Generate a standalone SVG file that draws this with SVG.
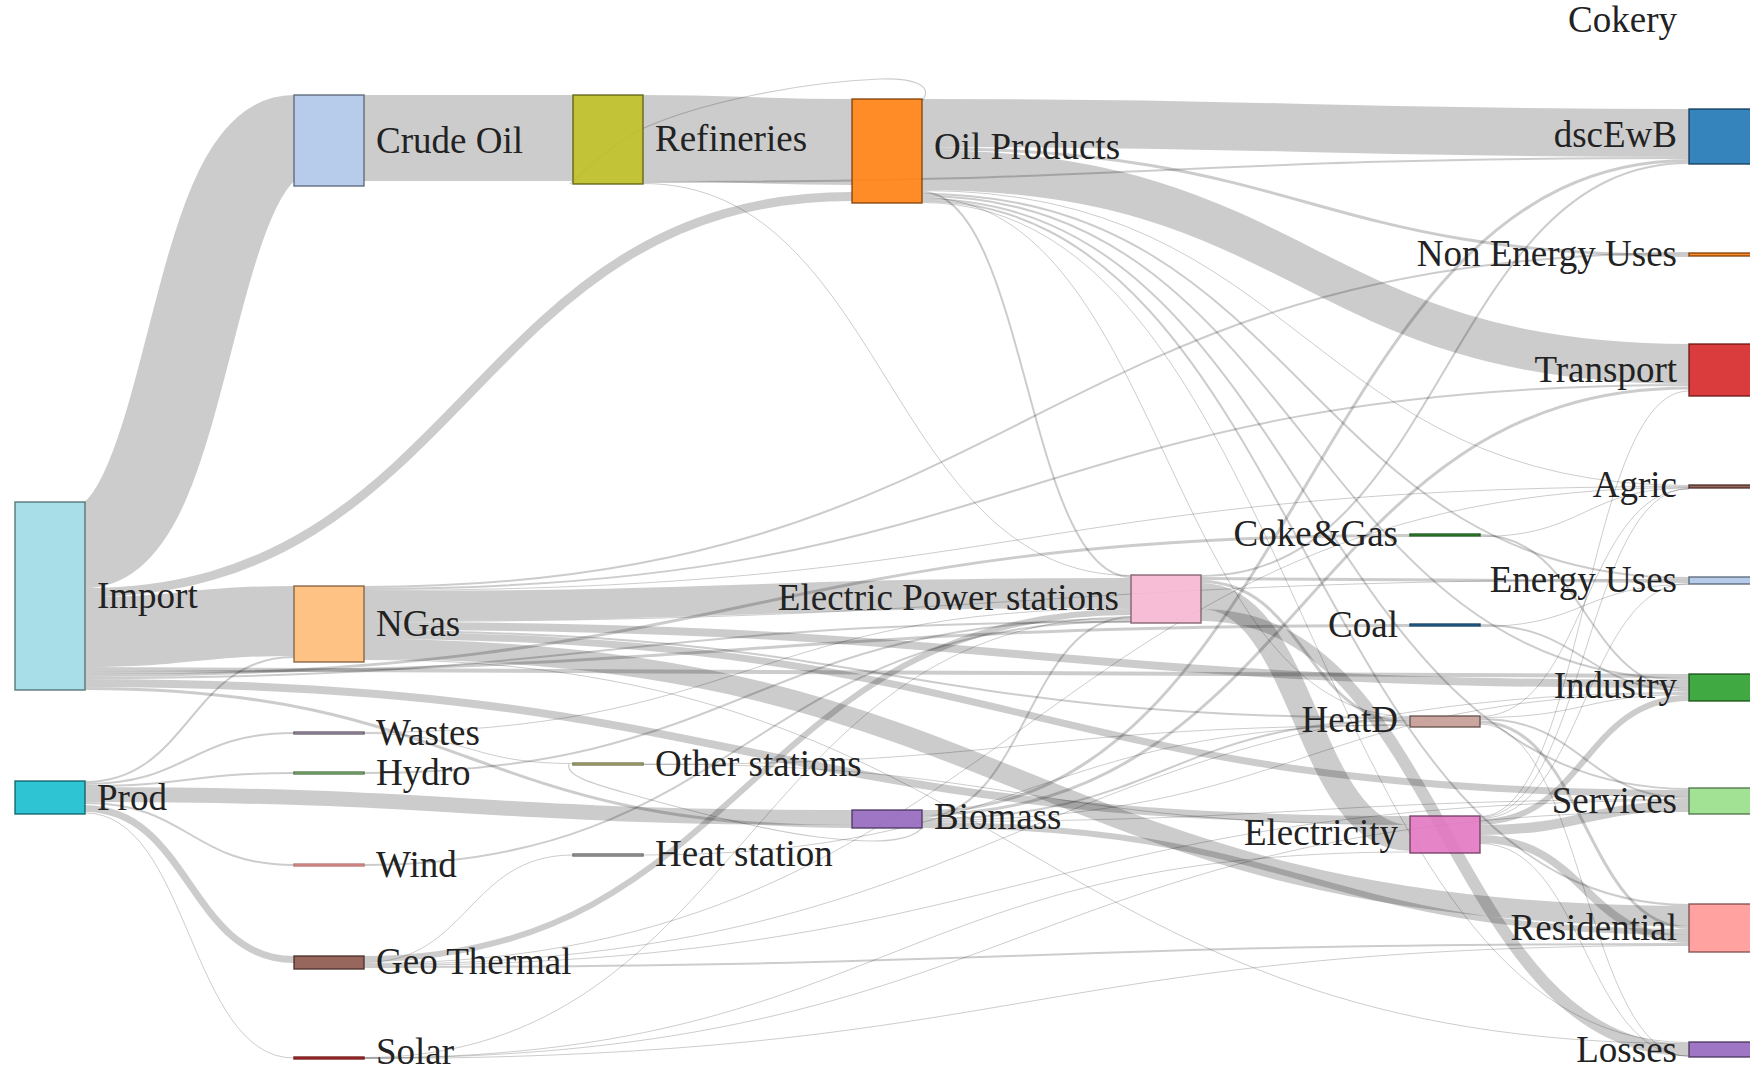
<svg xmlns="http://www.w3.org/2000/svg" width="1750" height="1071" viewBox="0 0 1750 1071">
<style>
.lk path{fill:none;stroke:#000;stroke-opacity:.2}
.loop{fill:none;stroke:#b06878;stroke-opacity:.55;stroke-width:1.2}
.nd rect{fill-opacity:.9;stroke-width:1.5;stroke-opacity:.85}
.nd text{font-family:"Liberation Serif","Times New Roman",serif;font-size:37px;fill:#222}
.e{text-anchor:end}
</style>
<rect width="1750" height="1071" fill="#fff"/>
<g id="links" class="lk">
<path d="M85,545C189.5,545 189.5,138 294,138" stroke-width="86"/>
<path d="M85,592.5C468.5,592.5 468.5,196.5 852,196.5" stroke-width="9"/>
<path d="M85,632C189.5,632 189.5,621 294,621" stroke-width="70"/>
<path d="M85,669C887,669 887,676 1689,676" stroke-width="4"/>
<path d="M85,672.5C747.5,672.5 747.5,625.5 1410,625.5" stroke-width="3"/>
<path d="M85,675.5C747.5,675.5 747.5,535.5 1410,535.5" stroke-width="3"/>
<path d="M85,678C608,678 608,622 1131,622" stroke-width="2"/>
<path d="M85,683C747.5,683 747.5,820 1410,820" stroke-width="8"/>
<path d="M85,688.5C468.5,688.5 468.5,826.5 852,826.5" stroke-width="3"/>
<path d="M85,782C189.5,782 189.5,657 294,657" stroke-width="2"/>
<path d="M85,784C189.5,784 189.5,733 294,733" stroke-width="2"/>
<path d="M85,786C189.5,786 189.5,773 294,773" stroke-width="2"/>
<path d="M85,794.5C468.5,794.5 468.5,817.5 852,817.5" stroke-width="15"/>
<path d="M85,803C189.5,803 189.5,865 294,865" stroke-width="2"/>
<path d="M85,808.5C189.5,808.5 189.5,959.5 294,959.5" stroke-width="7"/>
<path d="M85,813C189.5,813 189.5,1058 294,1058" stroke-width="1"/>
<path d="M364,138C468.5,138 468.5,138 573,138" stroke-width="86"/>
<path d="M643,138C747.5,138 747.5,142 852,142" stroke-width="86"/>
<path d="M643,182C1166,182 1166,158 1689,158" stroke-width="2"/>
<path d="M643,183.5C887,183.5 887,575.5 1131,575.5" stroke-width="1"/>
<path d="M922,123C1305.5,123 1305.5,133 1689,133" stroke-width="48"/>
<path d="M922,148.5C1305.5,148.5 1305.5,255.5 1689,255.5" stroke-width="3"/>
<path d="M922,170C1305.5,170 1305.5,364 1689,364" stroke-width="40"/>
<path d="M922,190.5C1305.5,190.5 1305.5,485.5 1689,485.5" stroke-width="1"/>
<path d="M922,192C1026.5,192 1026.5,577 1131,577" stroke-width="2"/>
<path d="M922,194C1305.5,194 1305.5,578 1689,578" stroke-width="2"/>
<path d="M922,196C1305.5,196 1305.5,679 1689,679" stroke-width="2"/>
<path d="M922,197.5C1166,197.5 1166,716.5 1410,716.5" stroke-width="1"/>
<path d="M922,199C1305.5,199 1305.5,789 1689,789" stroke-width="2"/>
<path d="M922,201C1305.5,201 1305.5,905 1689,905" stroke-width="2"/>
<path d="M922,202.5C1305.5,202.5 1305.5,1042.5 1689,1042.5" stroke-width="1"/>
<path d="M364,587C1026.5,587 1026.5,253 1689,253" stroke-width="2"/>
<path d="M364,589C1026.5,589 1026.5,385 1689,385" stroke-width="2"/>
<path d="M364,590.5C1026.5,590.5 1026.5,486.5 1689,486.5" stroke-width="1"/>
<path d="M364,606C747.5,606 747.5,593 1131,593" stroke-width="30"/>
<path d="M364,621.5C1026.5,621.5 1026.5,579.5 1689,579.5" stroke-width="1"/>
<path d="M364,626C1026.5,626 1026.5,684 1689,684" stroke-width="8"/>
<path d="M364,631C887,631 887,718 1410,718" stroke-width="2"/>
<path d="M364,635.5C1026.5,635.5 1026.5,793.5 1689,793.5" stroke-width="7"/>
<path d="M364,649C1026.5,649 1026.5,916 1689,916" stroke-width="20"/>
<path d="M364,659.5C1026.5,659.5 1026.5,1043.5 1689,1043.5" stroke-width="1"/>
<path d="M364,733.5C468.5,733.5 468.5,763.5 573,763.5" stroke-width="1"/>
<path d="M364,732.5C747.5,732.5 747.5,608.5 1131,608.5" stroke-width="1"/>
<path d="M364,773C747.5,773 747.5,619 1131,619" stroke-width="2"/>
<path d="M364,865C747.5,865 747.5,621 1131,621" stroke-width="2"/>
<path d="M364,959C747.5,959 747.5,612 1131,612" stroke-width="6"/>
<path d="M364,962.5C468.5,962.5 468.5,855 573,855" stroke-width="1"/>
<path d="M364,963.5C1026.5,963.5 1026.5,487.5 1689,487.5" stroke-width="1"/>
<path d="M364,964.5C1026.5,964.5 1026.5,692.5 1689,692.5" stroke-width="1"/>
<path d="M364,965.5C1026.5,965.5 1026.5,800.5 1689,800.5" stroke-width="1"/>
<path d="M364,967C1026.5,967 1026.5,944 1689,944" stroke-width="2"/>
<path d="M364,1057.5C747.5,1057.5 747.5,617 1131,617" stroke-width="1"/>
<path d="M364,1058C887,1058 887,852 1410,852" stroke-width="1"/>
<path d="M364,1058C1026.5,1058 1026.5,811.5 1689,811.5" stroke-width="1"/>
<path d="M364,1058.5C1026.5,1058.5 1026.5,945.5 1689,945.5" stroke-width="1"/>
<path d="M643,764C1026.5,764 1026.5,824.5 1410,824.5" stroke-width="1"/>
<path d="M643,764.5C1026.5,764.5 1026.5,725.5 1410,725.5" stroke-width="1"/>
<path d="M643,855C1026.5,855 1026.5,724.5 1410,724.5" stroke-width="1"/>
<path d="M922,811.5C1305.5,811.5 1305.5,160.5 1689,160.5" stroke-width="3"/>
<path d="M922,814.5C1305.5,814.5 1305.5,388 1689,388" stroke-width="3"/>
<path d="M922,817C1026.5,817 1026.5,617 1131,617" stroke-width="2"/>
<path d="M922,819C1166,819 1166,720 1410,720" stroke-width="2"/>
<path d="M922,820.5C1305.5,820.5 1305.5,693.5 1689,693.5" stroke-width="1"/>
<path d="M922,821.5C1305.5,821.5 1305.5,799.5 1689,799.5" stroke-width="1"/>
<path d="M922,825C1305.5,825 1305.5,932 1689,932" stroke-width="6"/>
<path d="M1201,576C1445,576 1445,163 1689,163" stroke-width="2"/>
<path d="M1201,578.5C1445,578.5 1445,581.5 1689,581.5" stroke-width="3"/>
<path d="M1201,581.5C1305.5,581.5 1305.5,722.5 1410,722.5" stroke-width="3"/>
<path d="M1201,596C1305.5,596 1305.5,838 1410,838" stroke-width="26"/>
<path d="M1201,615C1445,615 1445,1050 1689,1050" stroke-width="12"/>
<path d="M1480,535C1584.5,535 1584.5,689 1689,689" stroke-width="2"/>
<path d="M1480,536.5C1584.5,536.5 1584.5,488 1689,488" stroke-width="1"/>
<path d="M1480,625C1584.5,625 1584.5,691 1689,691" stroke-width="2"/>
<path d="M1480,626.5C1584.5,626.5 1584.5,584.5 1689,584.5" stroke-width="1"/>
<path d="M1480,716.5C1584.5,716.5 1584.5,489 1689,489" stroke-width="1"/>
<path d="M1480,717.5C1584.5,717.5 1584.5,694.5 1689,694.5" stroke-width="1"/>
<path d="M1480,719C1584.5,719 1584.5,798 1689,798" stroke-width="2"/>
<path d="M1480,722C1584.5,722 1584.5,927.5 1689,927.5" stroke-width="3"/>
<path d="M1480,724C1584.5,724 1584.5,1056.5 1689,1056.5" stroke-width="1"/>
<path d="M1480,816.5C1584.5,816.5 1584.5,391 1689,391" stroke-width="1"/>
<path d="M1480,817.5C1584.5,817.5 1584.5,488.5 1689,488.5" stroke-width="1"/>
<path d="M1480,818.5C1584.5,818.5 1584.5,583.5 1689,583.5" stroke-width="1"/>
<path d="M1480,822C1584.5,822 1584.5,698 1689,698" stroke-width="6"/>
<path d="M1480,830C1584.5,830 1584.5,806 1689,806" stroke-width="10"/>
<path d="M1480,839C1584.5,839 1584.5,939 1689,939" stroke-width="8"/>
<path d="M1480,843.5C1584.5,843.5 1584.5,1056 1689,1056" stroke-width="1"/>
<path class="loop" d="M922,101C935,84 910,78 880,79C800,82 700,103 644,128C620,140 590,165 570,184"/>
<path class="loop" d="M921,829C905,845 860,842 818,837C760,830 680,808 626,793C590,783 565,775 569,764"/>
</g>
<g class="nd">
<g id="n-import"><rect x="15" y="502" width="70" height="188" fill="#9edae5" stroke="#4d6b70"/><text x="97" y="608">Import</text></g>
<g id="n-prod"><rect x="15" y="781" width="70" height="33" fill="#17becf" stroke="#0b5d65"/><text x="97" y="810">Prod</text></g>
<g id="n-crude"><rect x="294" y="95" width="70" height="91" fill="#aec7e8" stroke="#556272"/><text x="376" y="153">Crude Oil</text></g>
<g id="n-ngas"><rect x="294" y="586" width="70" height="76" fill="#ffbb78" stroke="#7d5c3b"/><text x="376" y="636">NGas</text></g>
<g id="n-wastes"><rect x="294" y="732" width="70" height="2" fill="#c5b0d5" stroke="#605663"/><text x="376" y="745">Wastes</text></g>
<g id="n-hydro"><rect x="294" y="772" width="70" height="2" fill="#98df8a" stroke="#4b6d44"/><text x="376" y="785">Hydro</text></g>
<g id="n-wind"><rect x="294" y="864" width="70" height="2" fill="#ff9896" stroke="#b07070"/><text x="376" y="877">Wind</text></g>
<g id="n-geo"><rect x="294" y="956" width="70" height="13" fill="#8c564b" stroke="#452a25"/><text x="376" y="974">Geo Thermal</text></g>
<g id="n-solar"><rect x="294" y="1057" width="70" height="2" fill="#d62728" stroke="#691314"/><text x="376" y="1064">Solar</text></g>
<g id="n-refineries"><rect x="573" y="95" width="70" height="89" fill="#bcbd22" stroke="#5c5d11"/><text x="655" y="151">Refineries</text></g>
<g id="n-otherst"><rect x="573" y="763" width="70" height="2" fill="#dbdb8d" stroke="#6b6b45"/><text x="655" y="776">Other stations</text></g>
<g id="n-heatst"><rect x="573" y="854" width="70" height="2" fill="#c7c7c7" stroke="#616161"/><text x="655" y="866">Heat station</text></g>
<g id="n-oilprod"><rect x="852" y="99" width="70" height="104" fill="#ff7f0e" stroke="#7d3e07"/><text x="934" y="159">Oil Products</text></g>
<g id="n-biomass"><rect x="852" y="810" width="70" height="18" fill="#9467bd" stroke="#49335d"/><text x="934" y="829">Biomass</text></g>
<g id="n-eps"><rect x="1131" y="575" width="70" height="48" fill="#f7b6d2" stroke="#795967"/><text class="e" x="1119" y="610">Electric Power stations</text></g>
<g id="n-cokegas"><rect x="1410" y="534" width="70" height="2" fill="#2ca02c" stroke="#164e16"/><text class="e" x="1398" y="546">Coke&amp;Gas</text></g>
<g id="n-coal"><rect x="1410" y="624" width="70" height="2" fill="#1f77b4" stroke="#0f3a58"/><text class="e" x="1398" y="637">Coal</text></g>
<g id="n-heatd"><rect x="1410" y="716" width="70" height="11" fill="#c49c94" stroke="#604c49"/><text class="e" x="1398" y="732">HeatD</text></g>
<g id="n-electricity"><rect x="1410" y="816" width="70" height="37" fill="#e377c2" stroke="#6f3a5f"/><text class="e" x="1398" y="845">Electricity</text></g>
<g id="n-cokery"><text class="e" x="1677" y="32">Cokery</text></g>
<g id="n-dscewb"><rect x="1689" y="109" width="70" height="55" fill="#1f77b4" stroke="#0f3a58"/><text class="e" x="1677" y="147">dscEwB</text></g>
<g id="n-neu"><rect x="1689" y="253" width="70" height="3" fill="#ff7f0e" stroke="#7d3e07"/><text class="e" x="1677" y="266">Non Energy Uses</text></g>
<g id="n-transport"><rect x="1689" y="344" width="70" height="52" fill="#d62728" stroke="#691314"/><text class="e" x="1677" y="382">Transport</text></g>
<g id="n-agric"><rect x="1689" y="485" width="70" height="3" fill="#8c564b" stroke="#452a25"/><text class="e" x="1677" y="497">Agric</text></g>
<g id="n-energyuses"><rect x="1689" y="577" width="70" height="7" fill="#aec7e8" stroke="#556272"/><text class="e" x="1677" y="592">Energy Uses</text></g>
<g id="n-industry"><rect x="1689" y="674" width="70" height="27" fill="#2ca02c" stroke="#164e16"/><text class="e" x="1677" y="698">Industry</text></g>
<g id="n-services"><rect x="1689" y="788" width="70" height="26" fill="#98df8a" stroke="#4b6d44"/><text class="e" x="1677" y="813">Services</text></g>
<g id="n-residential"><rect x="1689" y="904" width="70" height="48" fill="#ff9896" stroke="#7d4b4a"/><text class="e" x="1677" y="940">Residential</text></g>
<g id="n-losses"><rect x="1689" y="1042" width="70" height="15" fill="#9467bd" stroke="#49335d"/><text class="e" x="1677" y="1062">Losses</text></g>
</g>
</svg>
